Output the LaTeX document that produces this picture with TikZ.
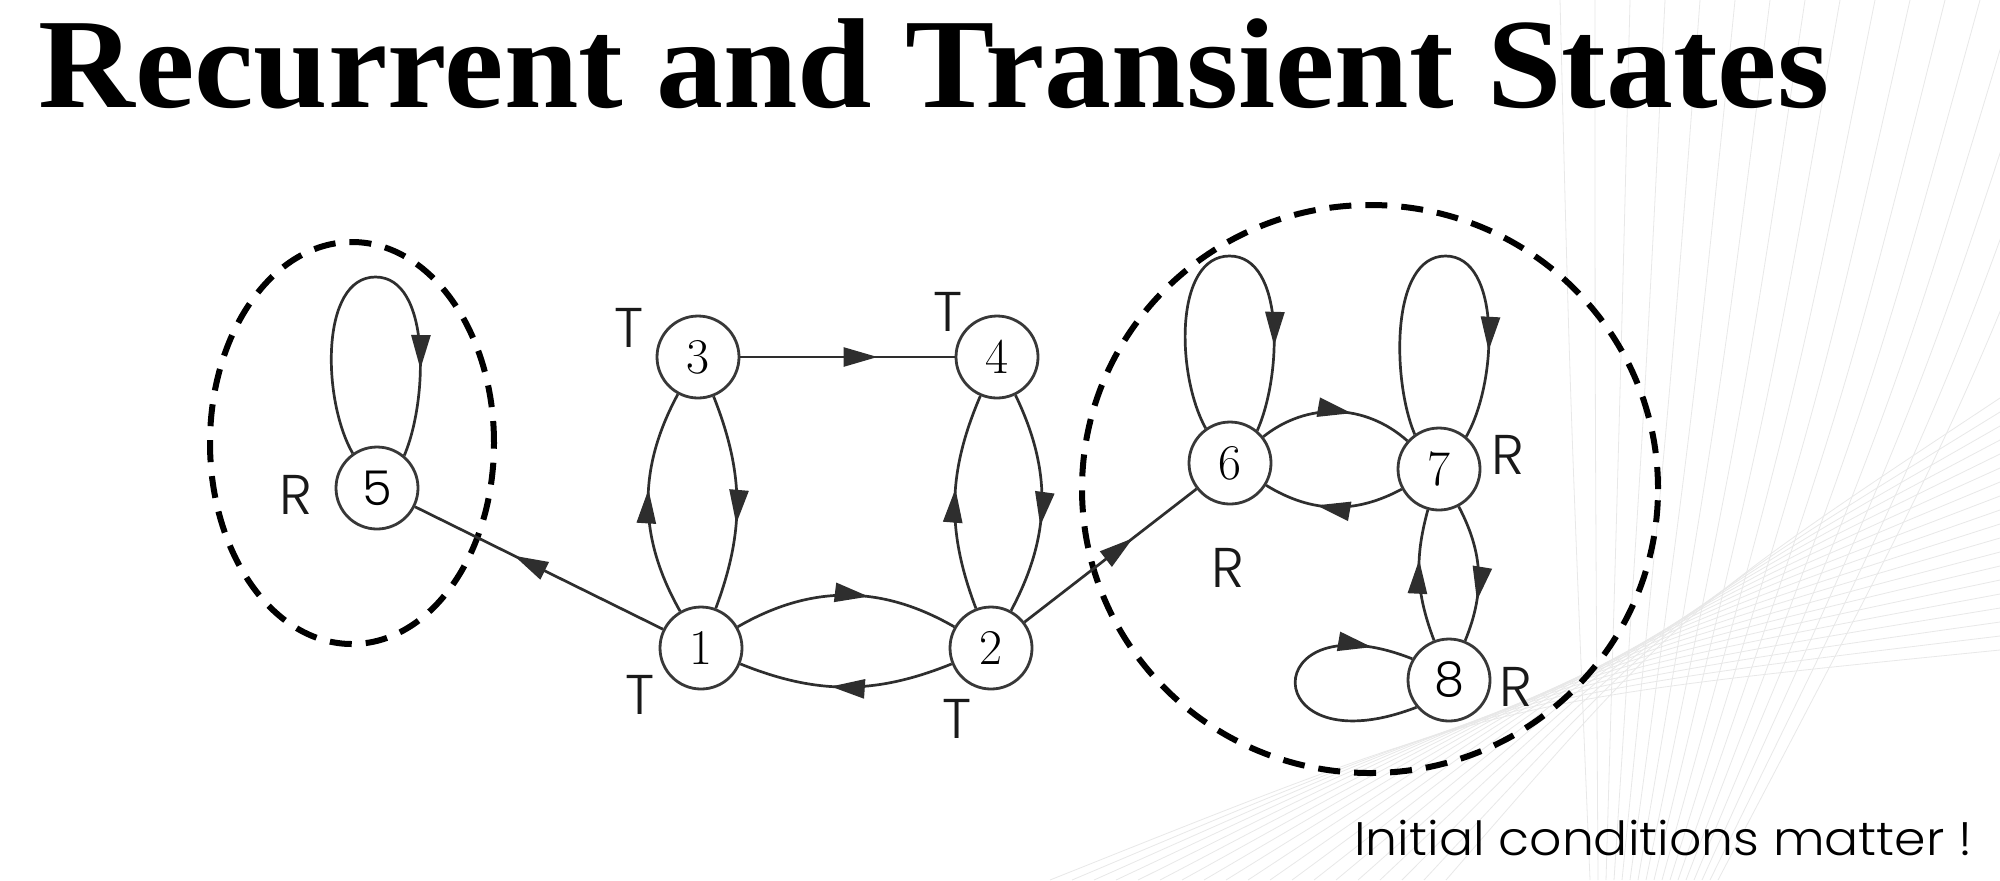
\documentclass[tikz,border=0pt]{standalone}
\usepackage{fontspec}
\usepackage{graphicx}
\usetikzlibrary{arrows.meta,decorations.markings,calc}
\newfontfamily\popp{Poppins Light}
\newfontfamily\titlefont{Liberation Serif}
\begin{document}
\begin{tikzpicture}[x=0.5pt,y=-0.5pt,
  state/.style={circle, draw=black!78, line width=1.4pt, fill=white, minimum size=41pt, inner sep=0pt, font=\fontsize{25}{25}\selectfont},
  sstate/.style={state, font=\popp\fontsize{24}{24}\selectfont},
  edge/.style={color=black!82, line width=1.35pt},
  am/.style={postaction={decorate, decoration={markings, mark=at position #1 with {\arrow{Triangle[length=17pt,width=9.5pt]}}}}},
  dashring/.style={draw=black, line width=3pt, dash pattern=on 11pt off 7pt},
  lab/.style={font=\popp\fontsize{28}{28}\selectfont, text=black!90, inner sep=0pt},
  bgline/.style={draw=black!9, line width=0.4pt}]
\fill[white] (0,0) rectangle (2000,880);
\useasboundingbox (0,0) rectangle (2000,880);
% background mesh
\begin{scope}
\clip (0,0) rectangle (2000,880);
\foreach \i in {0,...,16} \draw[bgline] (1560+\i*35,0) .. controls (1570+\i*25,400) .. (1590+\i*8,880);
\foreach \i in {0,...,18} \draw[bgline] (1050+\i*22,880) .. controls (1500+\i*10,700-\i*5) .. (2000,650-\i*14);
\end{scope}
% title
\node[anchor=base west, inner sep=0pt] (title) at (38,107) {\resizebox{895.5pt}{\height}{\titlefont\bfseries\fontsize{64}{64}\selectfont Recurrent and Transient States}};
\node[anchor=base west, inner sep=0pt] (note) at (1354,855) {\resizebox{309pt}{\height}{\popp\fontsize{23.5}{24}\selectfont Initial conditions matter !}};
% dashed classes
\draw[dashring] (352,443) ellipse [x radius=71pt, y radius=100.5pt];
\draw[dashring] (1370,489) ellipse [x radius=144pt, y radius=142pt];
% states
\node[state] (n1) at (701,648) {1};
\node[state] (n2) at (991,648) {2};
\node[state] (n3) at (698,357) {3};
\node[state] (n4) at (997,357) {4};
\node[sstate] (n5) at (377,488) {5};
\node[state] (n6) at (1230,463) {6};
\node[state] (n7) at (1439,469) {7};
\node[sstate] (n8) at (1449,680) {8};
% labels
\node[lab] (t3) at (629,328) {T};
\node[lab] (t4) at (948,312) {T};
\node[lab] (t1) at (640,695) {T};
\node[lab] (t2) at (957,719) {T};
\node[lab] (r5) at (296,495) {R};
\node[lab] (r7) at (1508,455) {R};
\node[lab] (r6) at (1228,568) {R};
\node[lab] (r8) at (1516,687) {R};
% edges
\draw[edge, am=0.6] (n1) -- (n5);
\draw[edge, am=0.64] (n3) -- (n4);
\draw[edge, am=0.63] (n2) -- (n6);
\draw[edge, am=0.56] (n1) to[bend left=29] (n3);
\draw[edge, am=0.6] (n3) to[bend left=21] (n1);
\draw[edge, am=0.56] (n2) to[bend left=22] (n4);
\draw[edge, am=0.6] (n4) to[bend left=27] (n2);
\draw[edge, am=0.6] (n1) to[bend left=30] (n2);
\draw[edge, am=0.57] (n2) to[bend left=22] (n1);
\draw[edge, am=0.6] (n6) to[bend left=40] (n7);
\draw[edge, am=0.62] (n7) to[bend left=30] (n6);
\draw[edge, am=0.7] (n7) to[bend left=25] (n8);
\draw[edge, am=0.62] (n8) to[bend left=18] (n7);
% self loops (tall ovals above the state)
\foreach \n/\h/\l/\r in {n5/211/49/46, n6/207/48/47, n7/213/41/54}{
  \draw[edge, am=0.78] (\n.125) .. controls ($(\n)+(-\l-6,-88)$) and ($(\n)+(-\l-8,-\h)$) .. ($(\n)+({(\r-\l)/2},-\h)$)
     .. controls ($(\n)+(\r+8,-\h)$) and ($(\n)+(\r+5,-88)$) .. (\n.50);
}
\draw[edge, am=0.85] (n8.220) .. controls +(-161,62) and +(-157,-62) .. (n8.150);
\end{tikzpicture}
\end{document}
